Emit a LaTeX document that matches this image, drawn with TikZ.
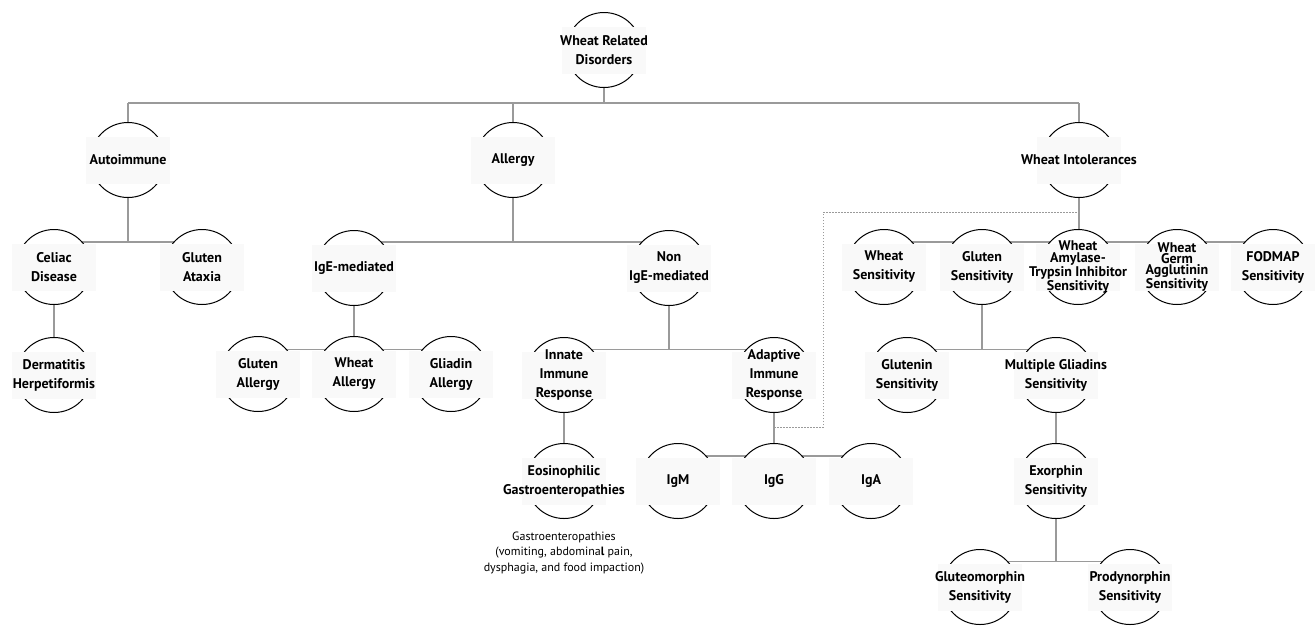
\documentclass[tikz,border=0pt]{standalone}
\usepackage{fontspec}
\setmainfont{PT Sans}
\usetikzlibrary{calc}
\pgfdeclarelayer{bg}
\pgfsetlayers{bg,main}
\definecolor{conn}{HTML}{9A9A9A}
\definecolor{rectfill}{HTML}{F9F9F9}
\newcommand\wnode[3]{%
  \node[circ] (#1) at (#2) {};
  \node[rectbg] at (#2) {};
  \node[lab] (#1-t) at (#2) {#3};
}
\newcommand\wnodetight[3]{%
  \node[circ] (#1) at (#2) {};
  \node[rectbg] at (#2) {};
  \node[lab,font=\bfseries\fontsize{14}{11.4}\selectfont] (#1-t) at (#2) {#3};
}
\begin{document}
\begin{tikzpicture}[x=1pt,y=-1pt,
  circ/.style={circle,draw=black,line width=1pt,fill=white,minimum size=75pt,inner sep=0pt},
  rectbg/.style={rectangle,fill=rectfill,minimum width=84pt,minimum height=47pt,inner sep=0pt},
  lab/.style={align=center,inner sep=0pt,font=\bfseries\fontsize{14}{19}\selectfont},
  edge/.style={draw=conn,line width=1.3pt},
  dots/.style={draw=conn,line width=0.9pt,dash pattern=on 1.5pt off 1.5pt},
  note/.style={align=center,inner sep=0pt,font=\fontsize{12}{15.5}\selectfont}]
\useasboundingbox (0,0) rectangle (1316,625);
% level 0
\wnode{root}{604,50}{Wheat Related\\Disorders}
% level 1
\wnode{auto}{128,160}{Autoimmune}
\wnode{allergy}{513,160}{Allergy}
\wnode{intol}{1079,160}{Wheat Intolerances}
% level 2
\wnode{celiac}{54,267}{Celiac\\Disease}
\wnode{ataxia}{202,267}{Gluten\\Ataxia}
\wnode{ige}{354,268}{IgE-mediated}
\wnode{nonige}{669,268}{Non\\IgE-mediated}
\wnode{wsens}{884,267}{Wheat\\Sensitivity}
\wnode{glsens}{982,267}{Gluten\\Sensitivity}
\wnodetight{amyl}{1078,267}{Wheat\\Amylase-\\Trypsin Inhibitor\\Sensitivity}
\wnodetight{germ}{1177,267}{Wheat\\Germ\\Agglutinin\\Sensitivity}
\wnode{fodmap}{1273,267}{FODMAP\\Sensitivity}
% level 3
\wnode{derm}{54,375}{Dermatitis\\Herpetiformis}
\wnode{glutall}{258,374}{Gluten\\Allergy}
\wnode{wheatall}{354,374}{Wheat\\Allergy}
\wnode{gliall}{451,374}{Gliadin\\Allergy}
\wnode{innate}{564,375}{Innate\\Immune\\Response}
\wnode{adaptive}{774,375}{Adaptive\\Immune\\Response}
\wnode{glutenin}{907,375}{Glutenin\\Sensitivity}
\wnode{gliadins}{1056,375}{Multiple Gliadins\\Sensitivity}
% level 4
\wnode{eos}{564,481}{Eosinophilic\\Gastroenteropathies}
\wnode{igm}{678,481}{IgM}
\wnode{igg}{774,481}{IgG}
\wnode{iga}{871,481}{IgA}
\wnode{exorphin}{1056,481}{Exorphin\\Sensitivity}
% level 5
\wnode{gluteo}{980,587}{Gluteomorphin\\Sensitivity}
\wnode{prody}{1130,587}{Prodynorphin\\Sensitivity}
% note
\node[note] (eosnote) at (564,553) {Gastroenteropathies\\(vomiting, abdomina\textbf{l} pain,\\dysphagia, and food impaction)};
% bar coordinates
\coordinate (b0) at (604,103);
\coordinate (b2) at (604,242);
\coordinate (b3) at (604,349.5);
\coordinate (b4) at (604,456);
\coordinate (b5) at (604,561.5);
\coordinate (d1) at (823,427);
\coordinate (d2) at (823,212);
\begin{pgfonlayer}{bg}
  \fill[white] (0,0) rectangle (1316,625);
  \draw[edge] (root) -- (root |- b0);
  \draw[edge] (auto |- b0) -- (intol |- b0);
  \draw[edge] (auto |- b0) -- (auto);
  \draw[edge] (allergy |- b0) -- (allergy);
  \draw[edge] (intol |- b0) -- (intol);
  % autoimmune
  \draw[edge] (auto) -- (auto |- b2);
  \draw[edge] (celiac |- b2) -- (ataxia |- b2);
  \draw[edge] (celiac) -- (derm);
  % allergy
  \draw[edge] (allergy) -- (allergy |- b2);
  \draw[edge] (ige |- b2) -- (nonige |- b2);
  \draw[edge] (ige) -- (ige |- b3);
  \draw[edge] (glutall |- b3) -- (gliall |- b3);
  \draw[edge] (nonige) -- (nonige |- b3);
  \draw[edge] (innate |- b3) -- (adaptive |- b3);
  \draw[edge] (innate) -- (eos);
  \draw[edge] (adaptive) -- (adaptive |- b4);
  \draw[edge] (igm |- b4) -- (iga |- b4);
  % intolerances
  \draw[edge] (intol) -- (intol |- b2);
  \draw[edge] (wsens |- b2) -- (fodmap |- b2);
  \draw[edge] (glsens) -- (glsens |- b3);
  \draw[edge] (glutenin |- b3) -- (gliadins |- b3);
  \draw[edge] (gliadins) -- (exorphin);
  \draw[edge] (exorphin) -- (exorphin |- b5);
  \draw[edge] (gluteo |- b5) -- (prody |- b5);
  % dotted link
  \draw[dots] (adaptive |- d1) -- (d1) -- (d2) -- (intol |- d2);
\end{pgfonlayer}
\end{tikzpicture}
\end{document}
